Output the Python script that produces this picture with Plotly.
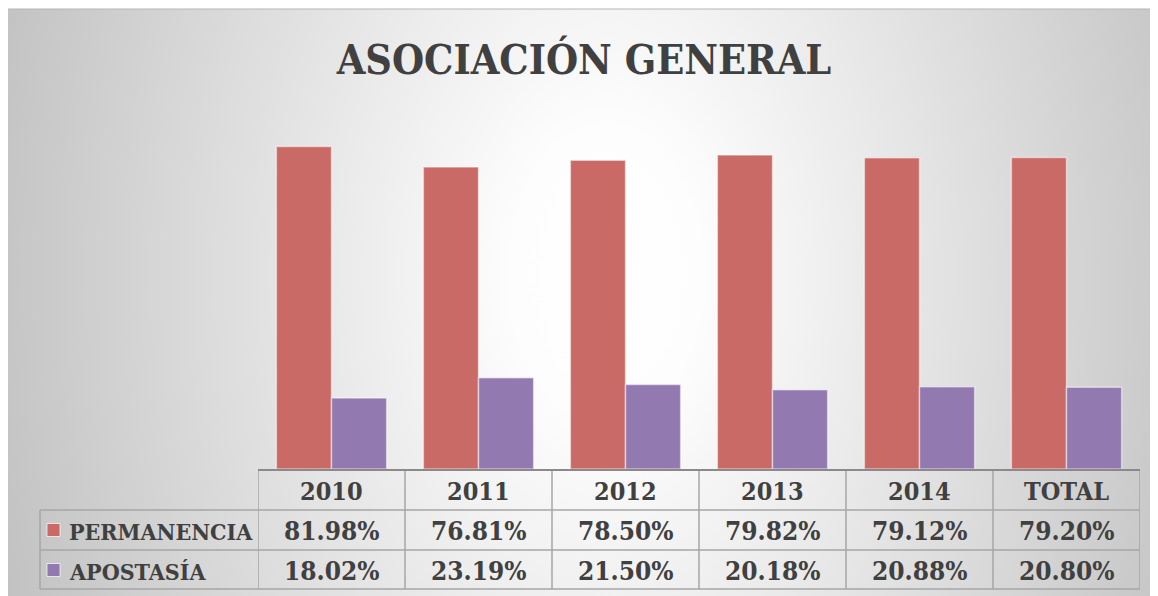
import base64
import plotly.graph_objects as go

# data
categories = ["2010", "2011", "2012", "2013", "2014", "TOTAL"]
permanencia = [81.98, 76.81, 78.50, 79.82, 79.12, 79.20]
apostasia = [18.02, 23.19, 21.50, 20.18, 20.88, 20.80]
series_names = ["PERMANENCIA", "APOSTASÍA"]
title_text = "ASOCIACIÓN GENERAL"

red = "#c96a66"
purple = "#9279b0"
text_col = "#404040"
grid_col = "#a6a6a6"
font_fam = "DejaVu Serif Condensed"

# page has an 8px body margin, positions below are page pixels
OFF = 8
W, H = 1150, 588
L, R, T, B = 250, 18, 107, 127
pw = W - L - R
ph = H - T - B


def px(x):
    return (x - OFF - L) / pw


def py(y):
    return (H - B - (y - OFF)) / ph


# radial gradient background like the excel chart style (mostly horizontal falloff)
svg = """<svg xmlns="http://www.w3.org/2000/svg" width="1151" height="587" viewBox="0 0 1151 587" preserveAspectRatio="none">
<defs><radialGradient id="g" cx="0.52" cy="0.45" r="0.55"
 gradientTransform="translate(0.52,0.45) scale(1,3) translate(-0.52,-0.45)">
<stop offset="0" stop-color="#ffffff"/><stop offset="0.15" stop-color="#fdfdfd"/><stop offset="1" stop-color="#c2c2c2"/>
</radialGradient></defs><rect width="1151" height="587" fill="url(#g)"/></svg>"""
bg_src = "data:image/svg+xml;base64," + base64.b64encode(svg.encode()).decode()

fig = go.Figure()
fig.add_bar(x=categories, y=permanencia, name=series_names[0],
            marker=dict(color=red, line=dict(color="rgba(255,255,255,0.5)", width=1.5)),
            hovertemplate="%{x}<br>" + series_names[0] + ": %{y:.2f}%<extra></extra>")
fig.add_bar(x=categories, y=apostasia, name=series_names[1],
            marker=dict(color=purple, line=dict(color="rgba(255,255,255,0.5)", width=1.5)),
            hovertemplate="%{x}<br>" + series_names[1] + ": %{y:.2f}%<extra></extra>")

shapes = []
ann = []

# chart border
shapes.append(dict(type="rect", xref="paper", yref="paper", x0=px(7), x1=px(1160),
                   y0=py(9), y1=py(598), line=dict(color="#b5b5b5", width=1), layer="below"))

# table lines
for yy in [510, 550, 589]:
    shapes.append(dict(type="line", xref="paper", yref="paper", x0=px(40), x1=px(1140),
                       y0=py(yy), y1=py(yy), line=dict(color=grid_col, width=1.5)))
shapes.append(dict(type="line", xref="paper", yref="paper", x0=px(40), x1=px(40),
                   y0=py(510), y1=py(589), line=dict(color=grid_col, width=1.5)))
for i in range(len(categories) + 1):
    shapes.append(dict(type="line", xref="x", yref="paper", x0=i - 0.5, x1=i - 0.5,
                       y0=py(471), y1=py(589), line=dict(color=grid_col, width=1.5)))

# legend swatches
for yy, c in [(530, red), (570, purple)]:
    shapes.append(dict(type="rect", xref="paper", yref="paper", x0=px(47), x1=px(60),
                       y0=py(yy - 6.5), y1=py(yy + 6.5), fillcolor=c,
                       line=dict(color="rgba(255,255,255,0.7)", width=1)))

hdr_font = dict(family=font_fam, size=25, color=text_col, weight="bold")
val_font = dict(family=font_fam, size=26, color=text_col, weight="bold")
for i, cat in enumerate(categories):
    for yy, txt, f in [(491, cat, hdr_font), (531, f"{permanencia[i]:.2f}%", val_font),
                       (571, f"{apostasia[i]:.2f}%", val_font)]:
        ann.append(dict(x=i, xref="x", xanchor="center", y=py(yy), yref="paper",
                        yanchor="middle", text=txt, showarrow=False, font=f))
for yy, name in [(531, series_names[0]), (571, series_names[1])]:
    ann.append(dict(x=px(67), xref="paper", xanchor="left", y=py(yy), yref="paper",
                    yanchor="middle", text=name, showarrow=False,
                    font=dict(family=font_fam, size=23, color=text_col, weight="bold")))

fig.update_layout(
    width=W, height=H,
    margin=dict(l=L, r=R, t=T, b=B),
    paper_bgcolor="white",
    plot_bgcolor="rgba(0,0,0,0)",
    barmode="group", bargap=0.25, bargroupgap=0,
    showlegend=False,
    title=dict(text=title_text, x=(584 - OFF) / W, xref="container", xanchor="center",
               y=1 - (60 - OFF) / H, yref="container", yanchor="middle",
               font=dict(family=font_fam, size=41, color=text_col, weight="bold")),
    xaxis=dict(range=[-0.5, len(categories) - 0.5], showticklabels=False, ticks="",
               showgrid=False, zeroline=False, showline=True, linecolor="#8a8a8a", linewidth=2),
    yaxis=dict(range=[0, 90], visible=False),
    shapes=shapes,
    annotations=ann,
    images=[dict(source=bg_src, xref="paper", yref="paper", x=px(7), y=py(9),
                 sizex=px(1160) - px(7), sizey=py(9) - py(598),
                 xanchor="left", yanchor="top", sizing="stretch", layer="below")],
)

fig.write_html("out.html")
